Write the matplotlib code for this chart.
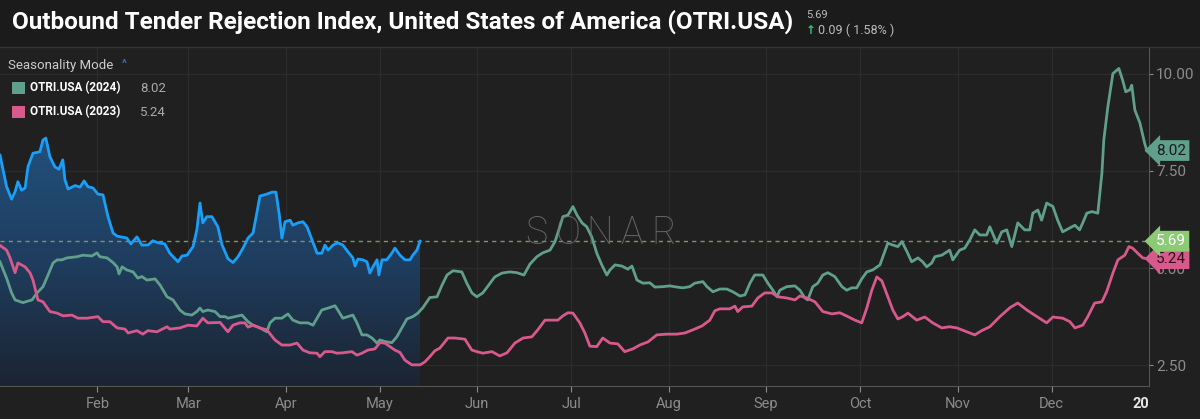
import matplotlib
matplotlib.use("Agg")
import matplotlib.pyplot as plt
import numpy as np
from matplotlib.colors import LinearSegmentedColormap
from matplotlib.transforms import blended_transform_factory

plt.rcParams['font.family'] = ['Roboto', 'DejaVu Sans']

# day of year (Jan 1 = 0) and index values
days_2025 = [0, 2.1, 3.7, 4.8, 5.7, 6.9, 8.0, 8.9, 10.5, 12.7, 13.7, 14.6, 15.9, 17.5, 18.8, 20.0, 20.7, 21.7,
             23.9, 25.5, 26.8, 28.0, 29.6, 31.2, 32.8, 34.4, 36.0, 37.3, 40.4, 41.7, 43.6, 45.2, 47.1, 48.7,
             50.3, 52.5, 54.1, 56.7, 58.0, 59.6, 61.5, 62.7, 63.7, 64.6, 65.9, 67.5, 69.4, 70.7, 72.6, 74.2,
             75.8, 77.4, 79.0, 80.6, 81.8, 82.8, 85.0, 86.6, 87.9, 88.9, 89.8, 90.8, 92.4, 93.3, 94.9, 96.5,
             97.8, 99.4, 101.0, 102.5, 103.5, 104.5, 106.1, 107.6, 109.2, 110.8, 112.4, 113.1, 114.0, 115.6,
             116.9, 117.8, 118.8, 120.1, 120.7, 121.7, 123.2, 124.8, 125.8, 127.4, 129.0, 130.6, 131.5, 132.8,
             133.8]
vals_2025 = [7.9, 7.09, 6.77, 6.96, 7.22, 7.0, 7.06, 7.6, 7.95, 7.99, 8.29, 8.34, 7.86, 7.6, 7.54, 7.78, 7.26, 7.03,
             7.12, 7.08, 7.24, 7.09, 7.06, 6.9, 6.88, 6.32, 5.9, 5.82, 5.77, 5.62, 5.8, 5.59, 5.59, 5.7,
             5.65, 5.62, 5.38, 5.16, 5.31, 5.33, 5.55, 5.98, 6.67, 6.16, 6.32, 6.32, 6.06, 5.6, 5.24, 5.14,
             5.29, 5.51, 5.77, 5.9, 6.41, 6.85, 6.9, 6.95, 6.95, 6.41, 5.77, 6.19, 6.23, 6.1, 6.16, 6.19,
             6.06, 5.72, 5.38, 5.38, 5.59, 5.46, 5.59, 5.65, 5.59, 5.42, 5.26, 5.05, 5.23, 5.21,
             5.16, 4.87, 5.03, 5.21, 4.82, 5.21, 5.21, 5.38, 5.51, 5.33, 5.21, 5.21, 5.33, 5.46,
             5.69]

days_2024 = [0, 2.1, 3.7, 4.8, 7.3, 10.2, 11.8, 13.7, 15.3, 16.9, 18.2, 19.7, 21.3, 24.5, 26.4, 29.3, 30.9, 31.8,
             34.1, 36.0, 37.3, 37.9, 38.9, 40.4, 42.4, 43.9, 45.2, 46.8, 49.4, 51.0, 53.2, 55.1, 57.3, 58.9,
             61.1, 62.7, 63.7, 64.6, 66.2, 68.5, 70.1, 71.7, 72.6, 74.8, 77.1, 79.0, 80.6, 82.8, 85.0, 86.0,
             87.6, 89.8, 91.7, 93.3, 95.5, 98.1, 99.7, 101.3, 102.5, 104.5, 106.7, 107.6, 109.2, 110.8, 112.4,
             113.7, 115.3, 116.9, 118.5, 120.1, 121.0, 122.6, 124.8, 126.4, 128.0, 129.6, 131.5, 133.1, 134.7,
             136.9, 139.2, 140.8, 142.4, 144.3, 147.1, 148.7, 150.3, 151.9, 153.8, 156.1, 157.6, 159.9, 162.4,
             164.6, 166.9, 168.8, 171.0, 172.9, 175.2, 176.8, 178.0, 179.3, 180.9, 182.5, 183.8, 185.4, 186.9,
             188.5, 190.1, 191.7, 193.3, 194.3, 195.9, 198.1, 200.0, 201.3, 202.9, 204.8, 207.0, 208.6, 211.1,
             213.4, 215.6, 217.5, 219.7, 221.3, 223.9, 225.2, 227.1, 229.3, 231.5, 233.4, 235.7, 237.3, 238.9,
             240.4, 243.0, 244.6, 246.2, 247.5, 248.4, 250.6, 253.2, 254.8, 256.4, 257.3, 258.9, 260.5, 262.1,
             263.7, 265.9, 268.2, 269.7, 271.3, 272.9, 274.5, 276.1, 278.0, 280.3, 281.8, 282.8, 284.4, 286.0,
             287.3, 288.9, 290.4, 292.4, 293.9, 295.2, 296.8, 297.8, 300.0, 302.5, 303.5, 305.7, 307.3, 308.9,
             310.5, 312.1, 314.3, 315.3, 317.5, 319.1, 320.7, 322.3, 324.2, 326.4, 328.0, 329.0, 330.6, 331.8,
             333.4, 335.4, 336.9, 338.5, 340.8, 342.4, 343.9, 344.9, 346.2, 347.8, 349.7, 351.0, 351.6, 352.9,
             354.5, 356.4, 357.6, 358.6, 359.9, 360.5, 361.5, 363.1, 364.6, 365.3]
vals_2024 = [5.16, 4.74, 4.36, 4.18, 4.11, 4.18, 4.36, 4.52, 4.82, 5.13, 5.21, 5.21, 5.26, 5.29, 5.33, 5.31, 5.39, 5.29,
             5.26, 5.14, 5.03, 4.85, 5.03, 4.95, 4.9, 4.74, 4.78, 4.69, 4.72, 4.56, 4.26, 4.18, 3.92, 3.82,
             3.79, 3.88, 3.97, 3.88, 3.92, 3.88, 3.75, 3.75, 3.71, 3.75, 3.79, 3.62, 3.53, 3.46, 3.36, 3.59,
             3.71, 3.71, 3.82, 3.66, 3.59, 3.59, 3.53, 3.75, 3.92, 3.97, 4.03, 3.92, 3.71, 3.75, 3.79,
             3.59, 3.28, 3.28, 3.2, 3.07, 3.15, 3.11, 3.08, 3.23, 3.46, 3.69, 3.75, 3.84, 3.98,
             4.24, 4.26, 4.56, 4.82, 4.93, 4.9, 4.61, 4.36, 4.26, 4.36, 4.61, 4.77, 4.87, 4.9,
             4.88, 4.82, 5.1, 5.29, 5.39, 5.46, 5.68, 5.98, 6.32, 6.36, 6.58, 6.36, 6.16, 6.06,
             5.8, 5.38, 5.08, 4.82, 4.95, 5.08, 5.05, 4.97, 5.05, 4.69, 4.61, 4.62, 4.51, 4.52,
             4.54, 4.51, 4.49, 4.52, 4.61, 4.65, 4.52, 4.39, 4.46, 4.46, 4.39, 4.28, 4.31, 4.61,
             4.82, 4.82, 4.61, 4.43, 4.26, 4.43, 4.52, 4.54, 4.43, 4.23, 4.18, 4.52, 4.61, 4.82,
             4.88, 4.78, 4.52, 4.43, 4.49, 4.49, 4.72, 4.9, 4.95, 5.08, 5.42, 5.64, 5.59, 5.55,
             5.68, 5.42, 5.16, 5.26, 5.16, 5.03, 5.13, 5.29, 5.33, 5.46, 5.21, 5.46, 5.51, 5.72,
             5.98, 5.85, 5.85, 6.06, 5.64, 5.93, 5.98, 5.55, 6.16, 5.98, 5.98, 6.41, 6.49, 6.23,
             6.67, 6.58, 6.23, 5.93, 6.03, 6.1, 5.98, 6.16, 6.41, 6.45, 6.41, 7.44, 8.29, 9.15,
             10.0, 10.13, 9.83, 9.53, 9.58, 9.7, 9.06, 8.73, 8.21, 8.02]

days_2023 = [0, 2.1, 3.2, 4.8, 5.7, 8.0, 9.6, 10.5, 12.1, 13.7, 15.9, 18.2, 20.1, 22.9, 24.8, 27.7, 31.2, 32.8,
             35.0, 37.3, 39.8, 40.8, 43.6, 45.5, 47.1, 50.0, 53.2, 54.1, 57.3, 59.9, 62.7, 64.6, 66.2, 70.1,
             72.6, 74.2, 76.4, 78.0, 79.0, 80.6, 82.8, 85.0, 87.6, 89.8, 92.4, 94.6, 96.5, 98.7, 101.0, 101.9,
             103.5, 105.7, 107.3, 109.2, 112.1, 113.7, 115.3, 117.2, 119.4, 121.0, 122.6, 124.2, 125.8, 127.4,
             129.0, 131.2, 133.8, 135.4, 136.9, 138.5, 140.1, 142.7, 144.9, 148.1, 150.3, 151.9, 153.8, 156.7,
             159.2, 161.5, 164.0, 166.6, 169.4, 171.3, 173.6, 176.1, 177.7, 179.3, 180.9, 182.5, 184.7, 186.3,
             187.9, 190.1, 192.0, 194.3, 196.8, 199.0, 201.6, 203.8, 206.4, 209.2, 212.4, 215.6, 218.2, 220.7,
             223.6, 226.1, 227.7, 229.3, 232.5, 234.1, 235.0, 236.6, 239.5, 241.4, 243.6, 245.9, 247.8, 250.6,
             253.2, 254.8, 257.0, 259.6, 262.1, 265.0, 267.5, 270.1, 272.3, 274.5, 276.1, 277.7, 279.3, 280.9,
             282.8, 284.4, 286.0, 287.6, 289.2, 292.0, 294.6, 297.1, 300.0, 302.5, 304.8, 308.0, 310.5, 312.7,
             315.3, 318.5, 321.7, 324.2, 327.1, 330.3, 333.4, 335.4, 338.5, 340.8, 342.4, 344.9, 346.5, 348.7,
             351.0, 352.5, 354.5, 356.1, 358.3, 359.6, 360.8, 362.4, 364.0, 365.3]
vals_2023 = [5.58, 5.46, 5.26, 4.88, 5.13, 5.03, 4.87, 4.69, 4.18, 4.13, 3.88, 3.84, 3.77, 3.79, 3.71, 3.71, 3.75, 3.62,
             3.62, 3.46, 3.43, 3.33, 3.39, 3.3, 3.39, 3.36, 3.49, 3.43, 3.46, 3.53, 3.51, 3.71, 3.59, 3.6,
             3.36, 3.53, 3.59, 3.59, 3.48, 3.53, 3.46, 3.41, 3.15, 3.02, 3.02, 3.07, 2.89, 2.82, 2.81, 2.72,
             2.85, 2.85, 2.81, 2.82, 2.85, 2.76, 2.81, 2.89, 2.92, 3.08, 3.07, 2.98, 2.89, 2.83,
             2.63, 2.51, 2.51, 2.59, 2.72, 2.87, 2.94, 3.2, 3.2, 3.17, 2.89, 2.85, 2.81, 2.85,
             2.74, 2.82, 3.07, 3.2, 3.23, 3.41, 3.66, 3.66, 3.66, 3.77, 3.85, 3.84, 3.59, 3.33,
             2.99, 2.98, 3.2, 3.07, 3.05, 2.85, 2.92, 3.02, 3.1, 3.28, 3.3, 3.3, 3.33, 3.41,
             3.51, 3.66, 3.9, 3.95, 3.95, 4.02, 3.88, 4.0, 4.02, 4.23, 4.36, 4.36, 4.26, 4.23,
             4.18, 4.28, 4.23, 4.13, 3.88, 3.82, 3.85, 3.75, 3.66, 3.59, 3.97, 4.43, 4.77, 4.67,
             4.26, 3.92, 3.69, 3.75, 3.84, 3.66, 3.74, 3.59, 3.46, 3.49, 3.46, 3.36, 3.28, 3.39,
             3.49, 3.75, 3.98, 4.1, 3.92, 3.75, 3.59, 3.74, 3.71, 3.62, 3.46, 3.53, 3.75, 4.1,
             4.13, 4.39, 4.87, 5.21, 5.33, 5.55, 5.51, 5.38, 5.26, 5.24]

month_days = [31, 60, 91, 121, 152, 182, 213, 244, 274, 305, 335]
month_labels = ["Feb", "Mar", "Apr", "May", "Jun", "Jul", "Aug", "Sep", "Oct", "Nov", "Dec"]
y_ticks = [2.5, 5.0, 7.5, 10.0]
last_2025, last_2024, last_2023 = 5.69, 8.02, 5.24
change, change_pct = 0.09, 1.58

bg = "#202020"
c25 = "#1a9ff8"
c24 = "#5f9f8c"
c23 = "#d8598b"
grey = "#8c8c8c"

fig = plt.figure(figsize=(12, 4.19), dpi=100, facecolor=bg)
ax = fig.add_axes([0.0, 0.0788, 0.9575, 0.8066], facecolor=bg)
ax.set_xlim(0, 366)
ax.set_ylim(1.967, 10.656)

for d in month_days:
    ax.axvline(d, color="#2c2c2c", lw=0.9, zorder=0)
for v in y_ticks:
    ax.axhline(v, color="#2c2c2c", lw=0.9, zorder=0)

# 2025 line with gradient fill below
x25 = np.array(days_2025)
y25 = np.array(vals_2025)
poly = ax.fill_between(x25, y25, 1.967, color="none", lw=0)
grad = np.linspace(0, 1, 256).reshape(-1, 1)
cmap = LinearSegmentedColormap.from_list("g", ["#1c2432", "#1f3d5e", "#22507c"])
im = ax.imshow(grad, extent=[0, x25.max(), 1.967, y25.max()], origin="lower", aspect="auto",
               cmap=cmap, zorder=1)
im.set_clip_path(poly.get_paths()[0], transform=ax.transData)

ax.plot(days_2024, vals_2024, color=c24, lw=2.0, zorder=3, solid_joinstyle="round")
ax.plot(days_2023, vals_2023, color=c23, lw=2.0, zorder=3, solid_joinstyle="round")
ax.plot(x25, y25, color=c25, lw=2.0, zorder=4, solid_joinstyle="round")

ax.axhline(last_2025, color="#7f9270", lw=1.0, ls=(0, (3, 3)), zorder=2)

# axes styling
for s in ["top", "left"]:
    ax.spines[s].set_visible(False)
ax.spines["right"].set_color("#555555")
ax.spines["bottom"].set_color("#555555")
ax.yaxis.tick_right()
ax.set_yticks(y_ticks)
ax.set_yticklabels([f"{v:.2f}" for v in y_ticks])
ax.tick_params(axis="y", colors=grey, labelsize=11, length=3, pad=2)
ax.set_xticks(month_days + [366])
ax.set_xticklabels(month_labels + ["20"])
ax.tick_params(axis="x", colors=grey, labelsize=10.5, length=4, pad=4)
xl = ax.get_xticklabels()
xl[-1].set_color("#e6e6e6")
xl[-1].set_fontweight("bold")
xl[-1].set_horizontalalignment("right")
ax.get_xticklines()[-2].set_visible(False)

# value tags on the right axis
tr = blended_transform_factory(ax.transAxes, ax.transData)
for val, face, tc in [(last_2024, c24, "#1a1a1a"), (last_2023, c23, "#2a0f1a"), (last_2025, "#8ccb74", "white")]:
    ax.text(1.006, val, f"{val:.2f}", transform=tr, ha="left", va="center", fontsize=11, color=tc,
            clip_on=False, zorder=10,
            bbox=dict(boxstyle="larrow,pad=0.22", fc=face, ec="none"))

# SONAR watermark
for i, ch in enumerate("SONAR"):
    fig.text((536 + 32 * i) / 1200, 1 - 233 / 419, ch, ha="center", va="center", fontsize=27,
             color="#707070", fontweight="light", alpha=0.85)

# header
fig.patches.append(plt.Rectangle((0, 1 - 47 / 419), 1, 47 / 419, transform=fig.transFigure,
                                 fc="#1b1b1b", ec="none", zorder=0))
fig.add_artist(plt.Line2D([0, 1], [1 - 47 / 419] * 2, transform=fig.transFigure, color="#333333", lw=1))
fig.text(12 / 1200, 1 - 22 / 419, "Outbound Tender Rejection Index, United States of America (OTRI.USA)",
         ha="left", va="center", fontsize=17.5, fontweight="bold", color="white")
fig.text(806 / 1200, 1 - 15 / 419, f"{last_2025:.2f}", ha="left", va="center", fontsize=8, color="#bbbbbb")
fig.text(806 / 1200, 1 - 30 / 419, "↑", ha="left", va="center", fontsize=8.5, color="#35c47f",
         fontweight="bold", family=["DejaVu Sans"])
fig.text(818 / 1200, 1 - 30 / 419, f"{change:.2f} ( {change_pct:.2f}% )", ha="left", va="center",
         fontsize=9, color="#bbbbbb")

# legend
fig.text(8 / 1200, 1 - 65 / 419, "Seasonality Mode", ha="left", va="center", fontsize=9.5, color="#cccccc")
fig.text(122 / 1200, 1 - 64 / 419, "^", ha="left", va="center", fontsize=8, fontweight="bold", color="#3a73b8")
for row, (lab, col, v) in enumerate([("OTRI.USA (2024)", c24, last_2024), ("OTRI.USA (2023)", c23, last_2023)]):
    yy = 1 - (88 + 24 * row) / 419
    fig.patches.append(plt.Rectangle((12 / 1200, yy - 6 / 419), 13 / 1200, 12 / 419, transform=fig.transFigure,
                                     fc=col, ec="none"))
    fig.text(30 / 1200, yy, lab, ha="left", va="center", fontsize=8.5, fontweight="bold", color="white")
    fig.text(140 / 1200, yy, f"{v:.2f}", ha="left", va="center", fontsize=9.5, color="#aaaaaa")

fig.savefig("out.png", dpi=100, facecolor=bg)
